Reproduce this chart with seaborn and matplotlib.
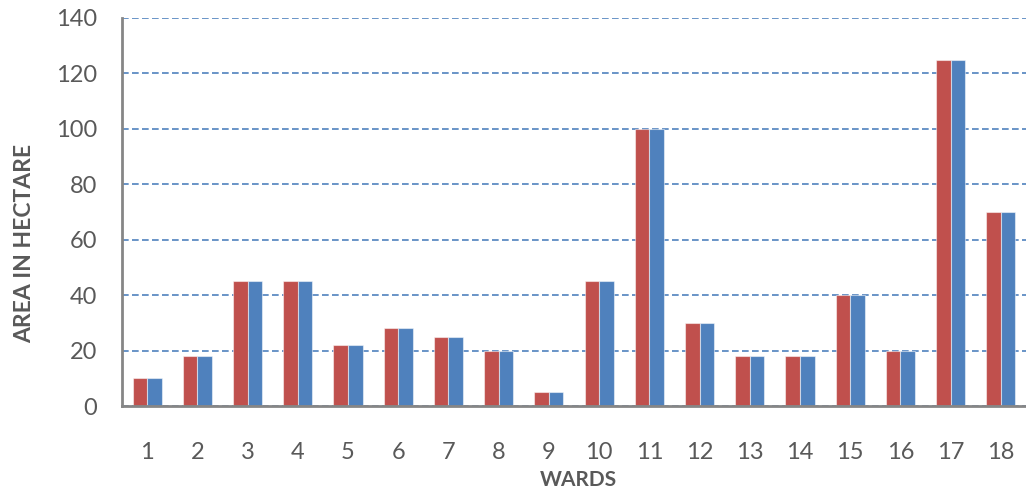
import matplotlib
matplotlib.use("Agg")
import matplotlib.pyplot as plt
import seaborn as sns
import pandas as pd

wards = [str(i) for i in range(1, 19)]
series_a = [10, 18, 45, 45, 22, 28, 25, 20, 5, 45, 100, 30, 18, 18, 40, 20, 125, 70]
series_b = [10, 18, 45, 45, 22, 28, 25, 20, 5, 45, 100, 30, 18, 18, 40, 20, 125, 70]
series_names = ["Series 1", "Series 2"]
y_ticks = [0, 20, 40, 60, 80, 100, 120, 140]

df = pd.DataFrame({
    "ward": wards * 2,
    "area": series_a + series_b,
    "series": [series_names[0]] * len(wards) + [series_names[1]] * len(wards),
})

sns.set_style("white")
plt.rcParams["font.family"] = ["Lato", "DejaVu Sans"]

fig = plt.figure(figsize=(10.26, 4.98), dpi=100)
ax = fig.add_axes([0.1189, 0.1847, 0.8811, 0.7792])

sns.barplot(
    data=df, x="ward", y="area", hue="series",
    palette=["#C0504D", "#4F81BD"], saturation=1, width=0.58, gap=0,
    edgecolor=(1, 1, 1, 0.5), linewidth=0.8,
    legend=False, ax=ax, zorder=3,
)

ax.set_ylim(0, 140)
ax.set_xlim(-0.5, len(wards) - 0.5)
ax.set_yticks(y_ticks)
ax.yaxis.grid(True, linestyle=(0, (4, 2)), color="#4F81BD", linewidth=1.2, zorder=0)
ax.set_axisbelow(True)

for side in ["top", "right"]:
    ax.spines[side].set_visible(False)
for side in ["left", "bottom"]:
    ax.spines[side].set_color("#868686")
    ax.spines[side].set_linewidth(2)
    ax.spines[side].set_zorder(4)

ax.tick_params(axis="y", length=0, pad=18, labelsize=17, labelcolor="#595959")
ax.tick_params(axis="x", length=0, pad=26, labelsize=17, labelcolor="#595959")

ax.set_xlabel("WARDS", fontsize=15, fontweight="bold", color="#595959")
ax.set_ylabel("AREA IN HECTARE", fontsize=16.5, fontweight="bold", color="#595959")
ax.xaxis.set_label_coords(0.505, -0.19)
ax.xaxis.label.set_va("center")
ax.yaxis.set_label_coords(-0.108, 0.42)
ax.yaxis.label.set_va("center")

fig.savefig("out.png", dpi=100)
